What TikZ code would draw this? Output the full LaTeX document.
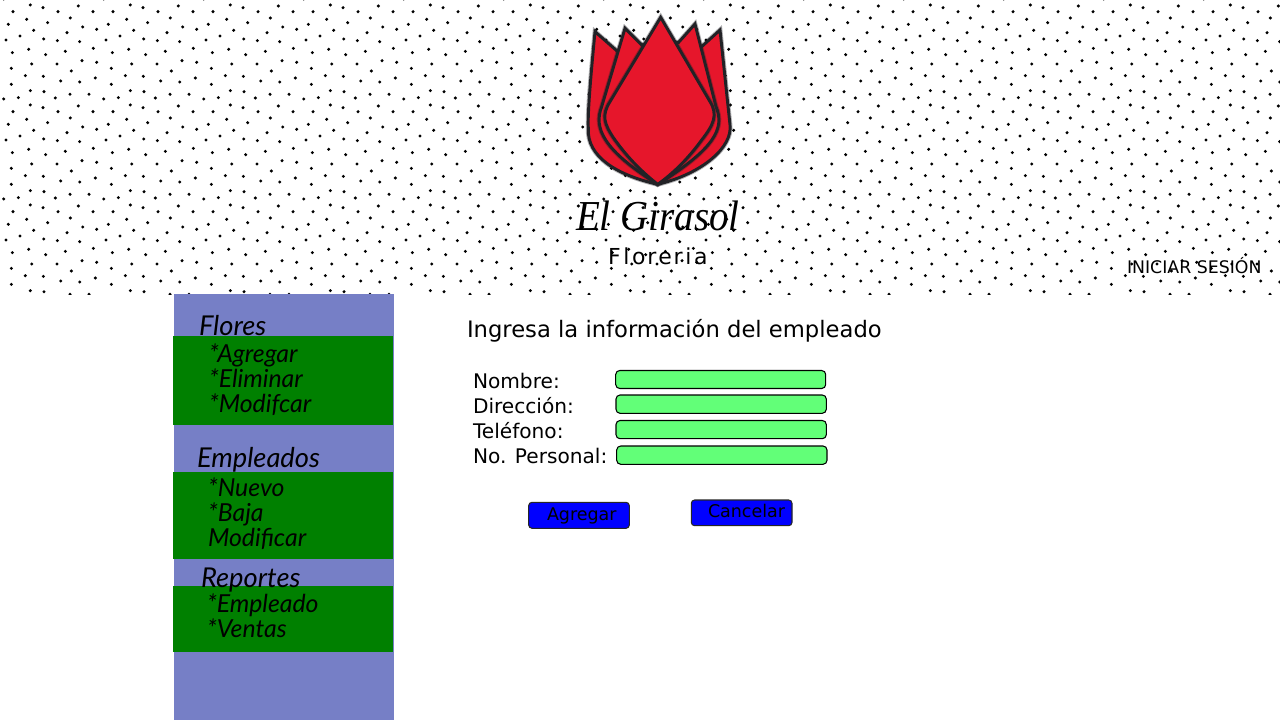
\documentclass[tikz,border=0pt]{standalone}
\usepackage{fontspec}
\setmainfont{DejaVu Sans}
\newfontfamily\hand{Lato}
\newfontfamily\logo{Liberation Serif}
\definecolor{petal}{HTML}{E6162B}
\definecolor{sidebar}{HTML}{767FC6}
\definecolor{menugreen}{HTML}{008000}
\definecolor{fieldgreen}{HTML}{62FF78}
\definecolor{btnblue}{HTML}{0000FF}
\definecolor{petalline}{HTML}{222226}
\tikzset{
  x=0.75pt,y=-0.75pt,
  txt/.style={anchor=base west,inner sep=0pt,outer sep=0pt,text=black},
  formlabel/.style={txt,font=\fontsize{15.1pt}{18pt}\selectfont},
  btnlabel/.style={txt,font=\fontsize{13.1pt}{16pt}\selectfont},
  menuhead/.style={txt,font=\hand\itshape\fontsize{20.5pt}{22pt}\selectfont},
  menuitem/.style={txt,font=\hand\itshape\fontsize{18.6pt}{22pt}\selectfont},
  menuband/.style={fill=menugreen,draw=none},
  field/.style={draw=black,line width=0.8pt,fill=fieldgreen,rounded corners=3pt},
  btn/.style={draw=black!85,line width=0.8pt,fill=btnblue,rounded corners=2.5pt},
  tulipedge/.style={draw=petalline,line width=2.2pt,line join=miter,fill=petal},
  tulipglow/.style={draw=petalline,draw opacity=.35,line width=3.6pt,line join=miter},
}
\newcommand{\petalpathA}{(105,95) -- (170,152) -- (245,135) -- (355,128) -- (425,140) -- (480,90) -- (510,375) .. controls (518,440) and (430,520) .. (293,553) .. controls (170,525) and (80,470) .. (85,385) .. controls (82,340) and (95,200) .. (105,95) -- cycle}
\newcommand{\petalpathB}{(195,85) -- (247,137) -- (355,128) -- (405,72) -- (468,320) .. controls (495,385) and (465,445) .. (293,553) .. controls (130,450) and (100,385) .. (125,320) -- cycle}
\newcommand{\petalpathC}{(302,52) -- (450,305) .. controls (475,345) and (460,375) .. (425,420) .. controls (385,475) and (340,520) .. (293,553) .. controls (245,515) and (205,475) .. (165,420) .. controls (130,370) and (125,345) .. (150,305) -- cycle}
\begin{document}
\begin{tikzpicture}
\useasboundingbox (0,0) rectangle (1280,720);
\fill[white] (0,0) rectangle (1280,720);
% dotted header
\begin{scope}
\clip (0,0) rectangle (1280,294);
\foreach \i in {-1,...,12}{
 \foreach \j in {-1,0,1,2}{
  \begin{scope}[shift={(100*\i,100*\j)},x=0.25pt,y=-0.25pt]
   \fill[black] \foreach \px/\py in {91/15,129/23,174/35,235/18,279/35,39/35,80/58,211/54,25/73,143/68,248/81,290/88,101/91,201/98,60/108,18/120,131/117,172/122,239/125,280/145,37/158,86/148,137/164,196/154,95/192,171/192,246/182,290/187,34/205,214/213,76/227,130/229,182/243,239/246,286/234,34/253,91/272,132/275,11/297,55/293,166/294,210/283,267/283}{(\px,\py) circle[radius=1.25pt]};
  \end{scope}
 }
}
\end{scope}
% tulip
\begin{scope}[shift={(560,0)},x=0.25pt,y=-0.25pt]
 \foreach \pth in {\petalpathA,\petalpathB,\petalpathC}{
  \path[tulipglow] \pth;
  \path[tulipedge] \pth;
 }
\end{scope}
% header text
\node[txt,font=\logo\itshape\fontsize{32pt}{36pt}\selectfont] (brand) at (576,230) {\scalebox{0.915}[1]{El Girasol}};
\node[txt,font=\fontsize{16.5pt}{20pt}\selectfont] (sub) at (608,264) {F\hspace{2pt}l\hspace{2pt}o\hspace{1.4pt}r\hspace{1.4pt}e\hspace{1.4pt}r\hspace{2pt}i\hspace{2pt}a};
\node[txt,font=\fontsize{13pt}{15pt}\selectfont] (login) at (1127,273) {INICIAR SESIÓN};
% sidebar
\fill[sidebar] (174,294) rectangle (394,720);
\fill[menuband] (173,336) rectangle (393.3,424.5);
\fill[menuband] (173,472) rectangle (393,559);
\fill[menuband] (173,586) rectangle (393,652);
\node[menuhead] (m1) at (199,335.5) {Flores};
\node[menuitem] (a1) at (209,362.5) {*Agregar};
\node[menuitem] (a2) at (209,387.5) {*Eliminar};
\node[menuitem] (a3) at (209,412.5) {*Modifcar};
\node[menuhead] (m2) at (197,467.5) {Empleados};
\node[menuitem] (b1) at (208,496.5) {*Nuevo};
\node[menuitem] (b2) at (208,521.5) {*Baja};
\node[menuitem] (b3) at (208,546.5) {Modificar};
\node[menuhead] (m3) at (201,587.5) {Reportes};
\node[menuitem] (c1) at (207,612.5) {*Empleado};
\node[menuitem] (c2) at (207,637.5) {*Ventas};
% form
\node[txt,font=\fontsize{17pt}{21pt}\selectfont] (title) at (467,337) {Ingresa la información del empleado};
\node[formlabel] (l1) at (473,388.5) {Nombre:};
\node[formlabel] (l2) at (473,413) {Dirección:};
\node[formlabel] (l3) at (473,438) {Teléfono:};
\node[formlabel] (l4) at (473,463) {No. Personal:};
\draw[field] (615.7,370.5) rectangle (825.7,388.5);
\draw[field] (616,395) rectangle (826.3,413.3);
\draw[field] (616,420.5) rectangle (826.3,438.7);
\draw[field] (616.7,446) rectangle (827,464.3);
\draw[btn] (528.7,502.3) rectangle (629.3,528.3);
\draw[btn] (691.3,500) rectangle (792,525.7);
\node[btnlabel] (bt1) at (547,520) {Agregar};
\node[btnlabel] (bt2) at (708,517) {Cancelar};
\end{tikzpicture}
\end{document}
